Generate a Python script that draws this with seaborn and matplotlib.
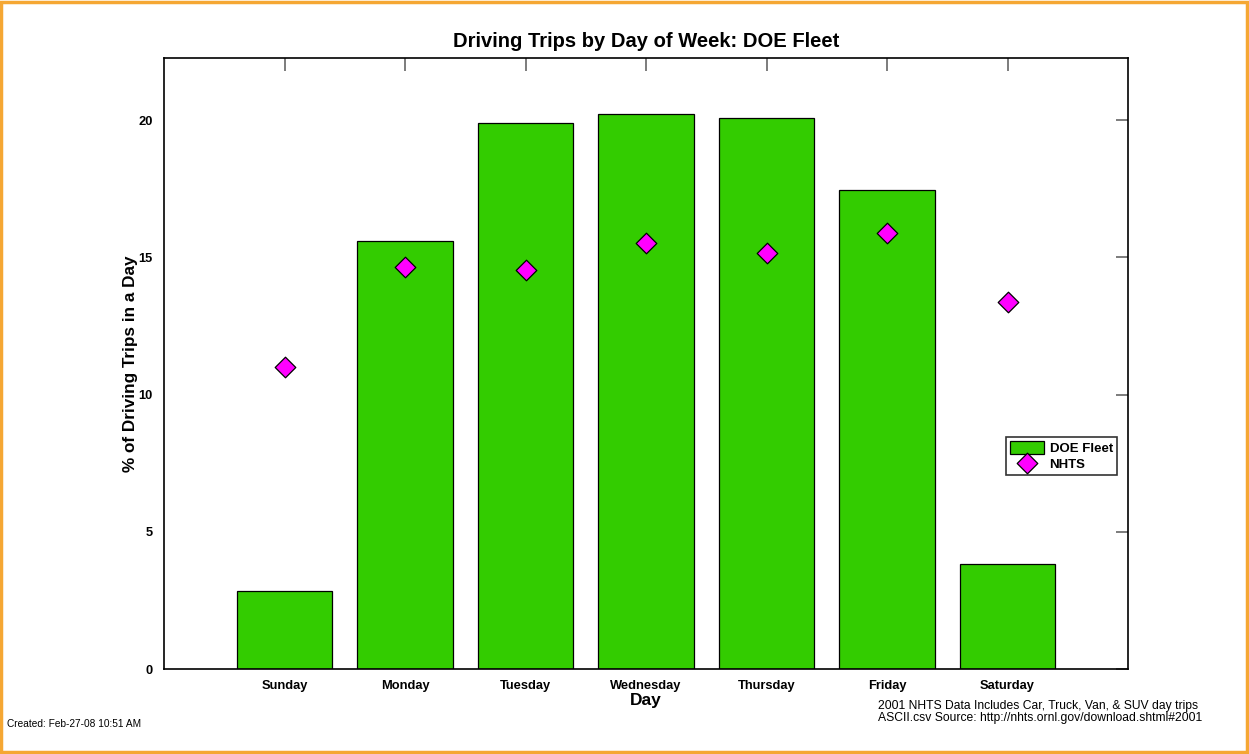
import numpy as np
import pandas as pd
import matplotlib
matplotlib.use("Agg")
import matplotlib.pyplot as plt
import seaborn as sns
from matplotlib.patches import Rectangle

# values
days = ["Sunday", "Monday", "Tuesday", "Wednesday", "Thursday", "Friday", "Saturday"]
doe_fleet = [2.84, 15.59, 19.89, 20.22, 20.07, 17.45, 3.83]
nhts = [11.0, 14.64, 14.54, 15.52, 15.15, 15.88, 13.37]
y_ticks = [0, 5, 10, 15, 20]

sns.set_style("white")
plt.rcParams["font.family"] = ["Liberation Sans", "DejaVu Sans"]
plt.rcParams["text.color"] = "black"
plt.rcParams["axes.labelcolor"] = "black"
plt.rcParams["xtick.labelcolor"] = "black"
plt.rcParams["ytick.labelcolor"] = "black"

df = pd.DataFrame({"Day": days, "DOE Fleet": doe_fleet, "NHTS": nhts})
df["pos"] = np.arange(1, len(days) + 1)

fig = plt.figure(figsize=(12.49, 7.54), dpi=100)
ax = fig.add_axes([164 / 1249, 1 - 669 / 754, (1128 - 164) / 1249, (669 - 58) / 754])

ax.bar(df["pos"], df["DOE Fleet"], width=0.79, color="#33cc00", edgecolor="black",
       linewidth=0.9, label="DOE Fleet", zorder=2)
sns.scatterplot(data=df, x="pos", y="NHTS", marker="D", s=110, color="#ff00ff",
                edgecolor="black", linewidth=0.9, label="NHTS", ax=ax, zorder=3)

ax.set_xlim(0, 8)
ax.set_ylim(0, 22.26)
ax.set_xticks(df["pos"])
ax.set_xticklabels(days, fontsize=9.3, fontweight="bold")
ax.set_yticks(y_ticks)
ax.set_yticklabels([str(t) for t in y_ticks], fontsize=9.3, fontweight="bold")
ax.tick_params(direction="in", length=9, width=1.2, color="#666666",
               top=True, right=True, pad=8)
for sp in ax.spines.values():
    sp.set_visible(True)
    sp.set_color("black")
    sp.set_linewidth(1.2)

ax.set_title("Driving Trips by Day of Week: DOE Fleet", fontsize=14.5, fontweight="bold",
             pad=8, color="black")
ax.set_xlabel("Day", fontsize=12.5, fontweight="bold", labelpad=1)
ax.set_ylabel("% of Driving Trips in a Day", fontsize=12.3, fontweight="bold")
ax.yaxis.set_label_coords(-0.027, 0.5)

handles, labels = ax.get_legend_handles_labels()
order = [labels.index("DOE Fleet"), labels.index("NHTS")]
leg = ax.legend([handles[i] for i in order], [labels[i] for i in order],
                loc="upper left", bbox_to_anchor=((1006 - 164) / 964, (669 - 437) / 611),
                frameon=True, fancybox=False, edgecolor="black", fontsize=9.5,
                borderpad=0.3, handlelength=2.6, handleheight=1.1, handletextpad=0.4,
                labelspacing=0.2, borderaxespad=0)
leg.get_frame().set_linewidth(1.2)
for t in leg.get_texts():
    t.set_fontweight("bold")

fig.text(7 / 1249, 1 - 724 / 754, "Created: Feb-27-08 10:51 AM", fontsize=7.3, va="center")
fig.text(878 / 1249, 1 - 712 / 754,
         "2001 NHTS Data Includes Car, Truck, Van, & SUV day trips\n"
         "ASCII.csv Source: http://nhts.ornl.gov/download.shtml#2001",
         fontsize=8.75, va="center", linespacing=1.1)

fig.patches.append(Rectangle((0.001, 0.002), 0.997, 0.996, transform=fig.transFigure,
                             fill=False, edgecolor="#f5a733", linewidth=2.5))

fig.savefig("out.png", dpi=100)
